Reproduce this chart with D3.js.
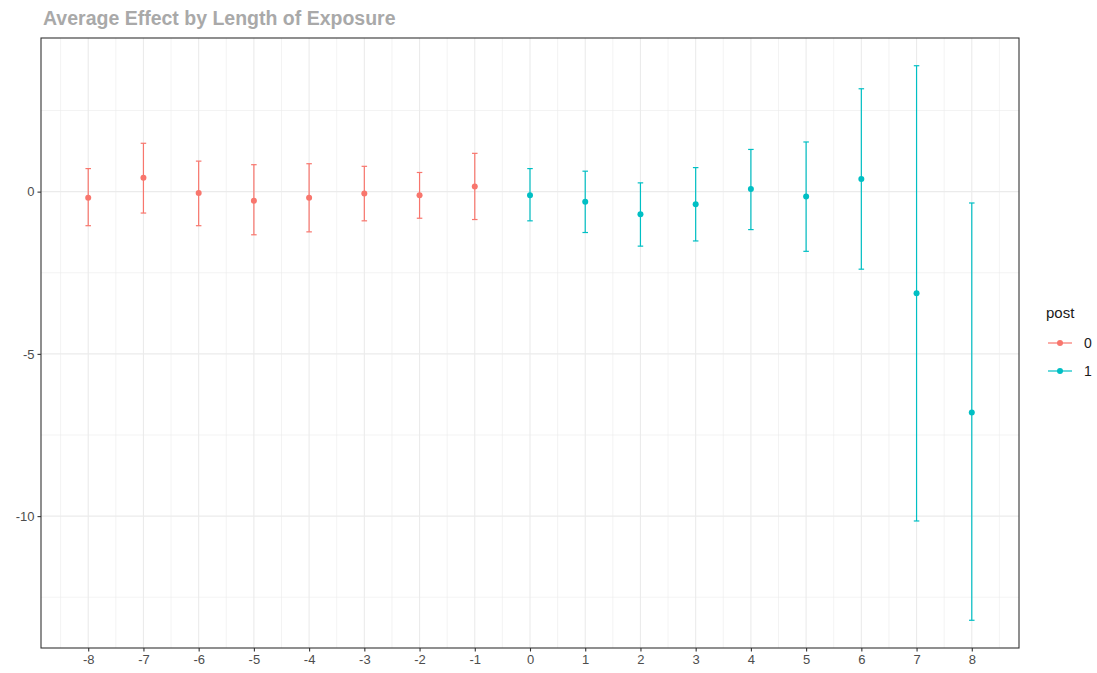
<!DOCTYPE html>
<html>
<head>
<meta charset="utf-8">
<script src="https://cdn.jsdelivr.net/npm/d3@7"></script>
<style>
  body { margin: 0; background: #fff; }
  text { font-family: "Liberation Sans", Arial, sans-serif; }
  .grid line { stroke: #ebebeb; }
</style>
</head>
<body>
<script>
// data
var periods = [-8, -7, -6, -5, -4, -3, -2, -1, 0, 1, 2, 3, 4, 5, 6, 7, 8];
var post = [0, 0, 0, 0, 0, 0, 0, 0, 1, 1, 1, 1, 1, 1, 1, 1, 1];
var estimate = [-0.19, 0.43, -0.04, -0.28, -0.19, -0.06, -0.11, 0.16, -0.11, -0.31, -0.70, -0.39, 0.08, -0.15, 0.39, -3.13, -6.81];
var upper = [0.71, 1.49, 0.94, 0.83, 0.86, 0.78, 0.59, 1.18, 0.71, 0.63, 0.27, 0.74, 1.30, 1.53, 3.17, 3.88, -0.35];
var lower = [-1.05, -0.66, -1.05, -1.33, -1.24, -0.90, -0.82, -0.86, -0.90, -1.26, -1.68, -1.52, -1.17, -1.84, -2.39, -10.15, -13.21];
var yTicks = [0, -5, -10];
var groups = ['0', '1'];

var width = 1097, height = 673;
var pLeft = 41, pTop = 38, pRight = 1019, pBottom = 648;
var capW = 0.1;

var data = periods.map(function(p, i) {
    return { period: p, post: post[i], est: estimate[i], lo: lower[i], hi: upper[i] };
});

var color = d3.scaleOrdinal()
    .domain(groups)
    .range(['#F8766D', '#00BFC4']);

// ggplot-style 5% expansion
var xmin = d3.min(periods) - capW / 2, xmax = d3.max(periods) + capW / 2;
var xpad = (xmax - xmin) * 0.05;
var xScale = d3.scaleLinear()
    .domain([xmin - xpad, xmax + xpad])
    .range([pLeft, pRight]);

var ymin = d3.min(lower), ymax = d3.max(upper);
var ypad = (ymax - ymin) * 0.05;
var yScale = d3.scaleLinear()
    .domain([ymin - ypad, ymax + ypad])
    .range([pBottom, pTop]);

var hyphen = d => (d < 0 ? '-' : '') + Math.abs(d);

var svg = d3.select('body')
    .append('svg')
    .attr('width', width)
    .attr('height', height);

//grid
var xMinor = d3.range(-8.5, 9, 1);
var yMinor = [2.5, -2.5, -7.5, -12.5];

var grid = svg.append('g').attr('class', 'grid');
grid.selectAll('.xminor').data(xMinor).enter().append('line')
    .attr('x1', d => xScale(d)).attr('x2', d => xScale(d))
    .attr('y1', pTop).attr('y2', pBottom)
    .attr('stroke-width', 0.6);
grid.selectAll('.yminor').data(yMinor).enter().append('line')
    .attr('y1', d => yScale(d)).attr('y2', d => yScale(d))
    .attr('x1', pLeft).attr('x2', pRight)
    .attr('stroke-width', 0.6);
grid.selectAll('.xmajor').data(periods).enter().append('line')
    .attr('x1', d => xScale(d)).attr('x2', d => xScale(d))
    .attr('y1', pTop).attr('y2', pBottom)
    .attr('stroke-width', 1.1);
grid.selectAll('.ymajor').data(yTicks).enter().append('line')
    .attr('y1', d => yScale(d)).attr('y2', d => yScale(d))
    .attr('x1', pLeft).attr('x2', pRight)
    .attr('stroke-width', 1.1);

//error bars
var bars = svg.append('g');
bars.selectAll('.bar').data(data).enter().append('line')
    .attr('x1', d => xScale(d.period)).attr('x2', d => xScale(d.period))
    .attr('y1', d => yScale(d.lo)).attr('y2', d => yScale(d.hi))
    .attr('stroke', d => color(String(d.post)))
    .attr('stroke-width', 1.2);
['lo', 'hi'].forEach(function(k) {
    bars.selectAll('.cap' + k).data(data).enter().append('line')
        .attr('x1', d => xScale(d.period - capW / 2)).attr('x2', d => xScale(d.period + capW / 2))
        .attr('y1', d => yScale(d[k])).attr('y2', d => yScale(d[k]))
        .attr('stroke', d => color(String(d.post)))
        .attr('stroke-width', 1.2);
});

//points
svg.append('g').selectAll('circle').data(data).enter().append('circle')
    .attr('cx', d => xScale(d.period))
    .attr('cy', d => yScale(d.est))
    .attr('r', 3)
    .attr('fill', d => color(String(d.post)));

//panel border
svg.append('rect')
    .attr('x', pLeft).attr('y', pTop)
    .attr('width', pRight - pLeft).attr('height', pBottom - pTop)
    .attr('fill', 'none')
    .attr('stroke', '#333333')
    .attr('stroke-width', 1.1);

//axes
var xAxis = svg.append('g')
    .attr('transform', 'translate(0,' + pBottom + ')')
    .call(d3.axisBottom(xScale).tickValues(periods).tickSize(3.5).tickPadding(3).tickFormat(hyphen));
var yAxis = svg.append('g')
    .attr('transform', 'translate(' + pLeft + ',0)')
    .call(d3.axisLeft(yScale).tickValues(yTicks).tickSize(3.5).tickPadding(3).tickFormat(hyphen));
[xAxis, yAxis].forEach(function(a) {
    a.select('.domain').remove();
    a.selectAll('.tick line').attr('stroke', '#333333').attr('stroke-width', 1.1);
    a.selectAll('.tick text').attr('fill', '#4d4d4d').style('font-size', '13px')
        .style('font-family', '"Liberation Sans", Arial, sans-serif');
});

//title
svg.append('text')
    .text('Average Effect by Length of Exposure')
    .attr('x', 43)
    .attr('y', 25)
    .attr('fill', '#a9a9a9')
    .style('font-weight', 'bold')
    .style('font-size', '19.5px');

//legend
svg.append('text')
    .text('post')
    .attr('x', 1046)
    .attr('y', 318)
    .attr('fill', '#1a1a1a')
    .style('font-size', '15px');

var leg = svg.append('g').selectAll('g').data(groups).enter().append('g')
    .attr('transform', (d, i) => 'translate(1048,' + (343 + i * 28) + ')');
leg.append('line')
    .attr('x1', 0).attr('x2', 24)
    .attr('stroke', d => color(d))
    .attr('stroke-width', 1.2);
leg.append('circle')
    .attr('cx', 12).attr('r', 3)
    .attr('fill', d => color(d));
leg.append('text')
    .text(d => d)
    .attr('x', 36)
    .attr('y', 5)
    .attr('fill', '#1a1a1a')
    .style('font-size', '14px');
</script>
</body>
</html>
